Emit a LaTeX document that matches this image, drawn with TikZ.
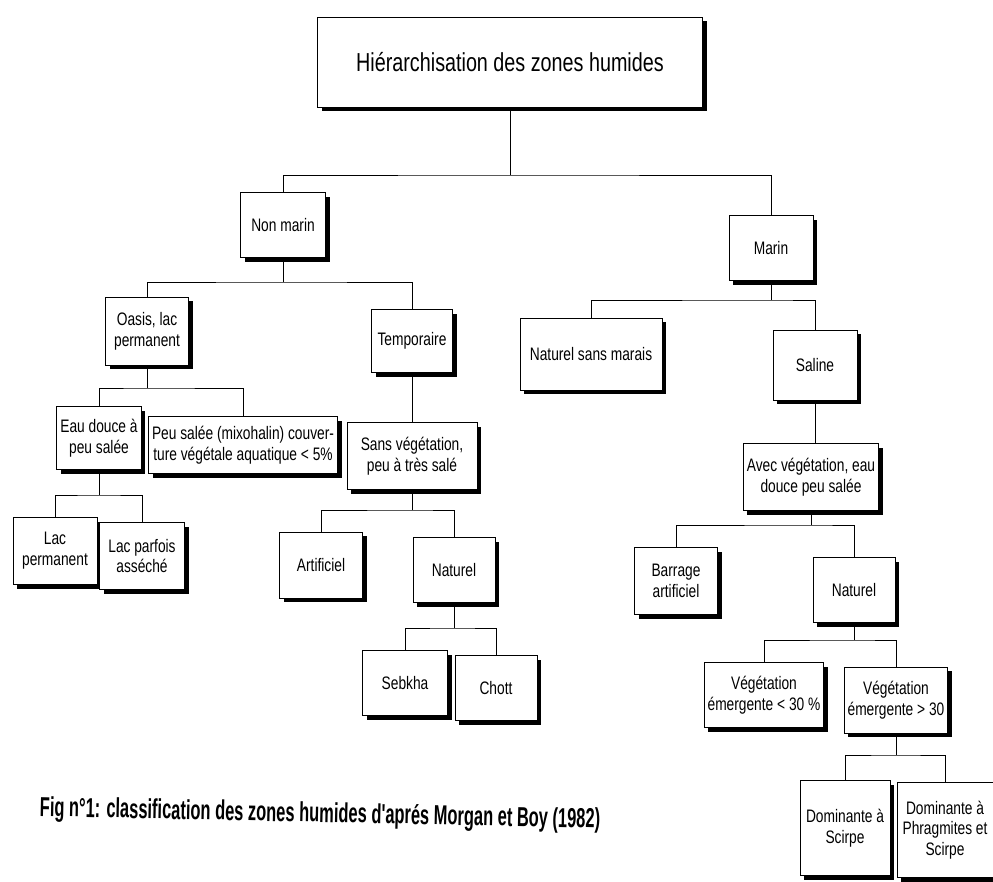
\documentclass[tikz,border=0pt]{standalone}
\usepackage{fontspec}
\setmainfont{Liberation Sans}[FakeStretch=0.76]
\newfontfamily\legende{Liberation Sans}[FakeStretch=0.6]
\usepackage{tikz}
\usetikzlibrary{shadows}

\begin{document}
\begin{tikzpicture}[font=\fontsize{10.3}{11.8}\selectfont,
		zone/.style={draw,fill=white,line width=0.55pt,align=center,inner sep=2pt,
			drop shadow={shadow xshift=0.08cm,shadow yshift=-0.08cm,fill=black,opacity=1}},
		lien/.style={line width=0.45pt}]
			\useasboundingbox (0,0) rectangle (19.86,-17.64);
			\node (root) at (10.2,-1.24) [zone,minimum width=7.7cm,minimum height=1.8cm,font=\fontsize{14.8}{17}\selectfont] {Hiérarchisation des zones humides};
			\node (nonmarin) at (5.66,-4.5) [zone,minimum width=1.7cm,minimum height=1.3cm] {Non marin};
			\node (marin) at (15.42,-4.96) [zone,minimum width=1.68cm,minimum height=1.3cm] {Marin};
			\node (oasis) at (2.94,-6.62) [zone,minimum width=1.66cm,minimum height=1.36cm] {Oasis, lac\\permanent};
			\node (temporaire) at (8.24,-6.82) [zone,minimum width=1.62cm,minimum height=1.26cm] {Temporaire};
			\node (eaudouce) at (1.98,-8.76) [zone,minimum width=1.6cm,minimum height=1.26cm] {Eau douce à\\peu salée};
			\node (peusale) at (4.86,-8.9) [zone,minimum width=3.5cm,minimum height=1.14cm] {Peu salée (mixohalin) couver-\\ture végétale aquatique < 5\%};
			\node (sansveg) at (8.24,-9.12) [zone,minimum width=2.6cm,minimum height=1.34cm] {Sans végétation,\\peu à très salé};
			\node (lacperm) at (1.1,-11.02) [zone,minimum width=1.68cm,minimum height=1.34cm] {Lac\\permanent};
			\node (lacparf) at (2.84,-11.12) [zone,minimum width=1.7cm,minimum height=1.34cm] {Lac parfois\\asséché};
			\node (artificiel) at (6.42,-11.3) [zone,minimum width=1.66cm,minimum height=1.32cm] {Artificiel};
			\node (naturelA) at (9.08,-11.4) [zone,minimum width=1.64cm,minimum height=1.3cm] {Naturel};
			\node (sebkha) at (8.1,-13.66) [zone,minimum width=1.7cm,minimum height=1.3cm] {Sebkha};
			\node (chott) at (9.92,-13.76) [zone,minimum width=1.64cm,minimum height=1.3cm] {Chott};
			\node (sansmarais) at (11.82,-7.08) [zone,minimum width=2.84cm,minimum height=1.44cm] {Naturel sans marais};
			\node (saline) at (16.3,-7.3) [zone,minimum width=1.68cm,minimum height=1.4cm] {Saline};
			\node (avecveg) at (16.22,-9.54) [zone,minimum width=2.66cm,minimum height=1.34cm] {Avec végétation, eau\\douce peu salée};
			\node (barrage) at (13.52,-11.62) [zone,minimum width=1.66cm,minimum height=1.34cm] {Barrage\\artificiel};
			\node (naturelB) at (17.08,-11.8) [zone,minimum width=1.64cm,minimum height=1.3cm] {Naturel};
			\node (veginf) at (15.28,-13.9) [zone,minimum width=2.3cm,minimum height=1.3cm] {Végétation\\émergente < 30 \%};
			\node (vegsup) at (17.92,-14.0) [zone,minimum width=2.02cm,minimum height=1.32cm] {Végétation\\émergente > 30};
			\node (scirpe) at (16.9,-16.56) [zone,minimum width=1.8cm,minimum height=1.9cm] {Dominante à\\Scirpe};
			\node (phragmites) at (18.9,-16.6) [zone,minimum width=1.92cm,minimum height=1.9cm] {Dominante à\\Phragmites et\\Scirpe};
			\node (legende) at (6.4,-16.3) [rotate=-1.2,font=\legende\bfseries\fontsize{15.6}{17}\selectfont] {Fig n°1: classification des zones humides d'aprés Morgan et Boy (1982)};
			% points de branchement
			\coordinate (b1) at (10.2,-3.5);
			\coordinate (b2) at (5.66,-5.64);
			\coordinate (b3) at (2.94,-7.76);
			\coordinate (b4) at (1.98,-9.9);
			\coordinate (b5) at (8.24,-10.2);
			\coordinate (b6) at (9.08,-12.56);
			\coordinate (b7) at (15.42,-6.0);
			\coordinate (b8) at (16.22,-10.5);
			\coordinate (b9) at (17.08,-12.8);
			\coordinate (b10) at (17.92,-15.1);
			\draw[lien] (root.south) -- (b1);
			\draw[lien] (nonmarin.north) |- (b1) -| (marin.north);
			\draw[lien] (nonmarin.south) -- (b2);
			\draw[lien] (oasis.north) |- (b2) -| (temporaire.north);
			\draw[lien] (oasis.south) -- (b3);
			\draw[lien] (eaudouce.north) |- (b3) -| (peusale.north);
			\draw[lien] (temporaire) to (sansveg);
			\draw[lien] (eaudouce.south) -- (b4);
			\draw[lien] (lacperm.north) |- (b4) -| (lacparf.north);
			\draw[lien] (sansveg.south) -- (b5);
			\draw[lien] (artificiel.north) |- (b5) -| (naturelA.north);
			\draw[lien] (naturelA.south) -- (b6);
			\draw[lien] (sebkha.north) |- (b6) -| (chott.north);
			\draw[lien] (marin.south) -- (b7);
			\draw[lien] (sansmarais.north) |- (b7) -| (saline.north);
			\draw[lien] (saline.south) -- (saline.south |- avecveg.north);
			\draw[lien] (avecveg.south) -- (b8);
			\draw[lien] (barrage.north) |- (b8) -| (naturelB.north);
			\draw[lien] (naturelB.south) -- (b9);
			\draw[lien] (veginf.north) |- (b9) -| (vegsup.north);
			\draw[lien] (vegsup.south) -- (b10);
			\draw[lien] (scirpe.north) |- (b10) -| (phragmites.north);
		\end{tikzpicture}
\end{document}
